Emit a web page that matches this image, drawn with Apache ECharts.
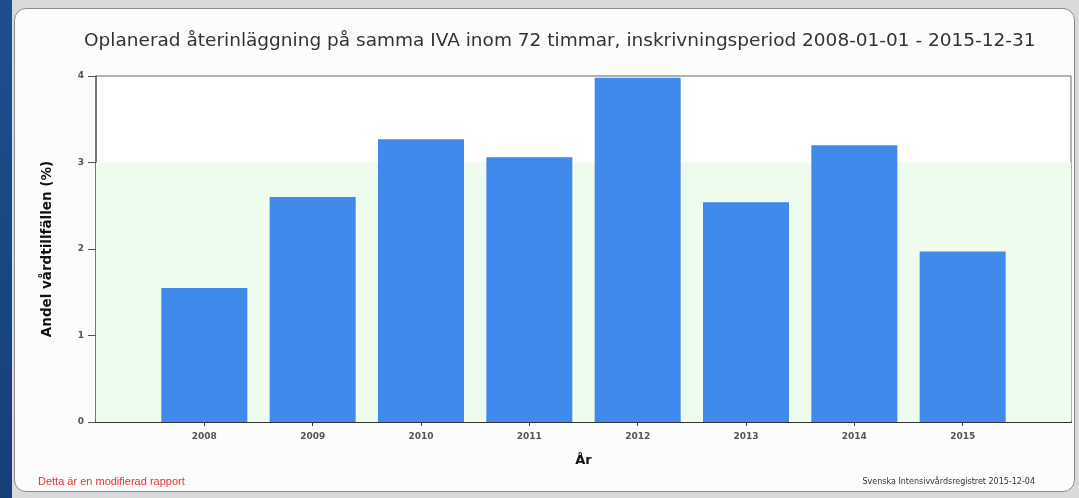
<!DOCTYPE html>
<html>
<head>
<meta charset="utf-8">
<script src="https://cdn.jsdelivr.net/npm/echarts@6/dist/echarts.min.js"></script>
<style>
    html, body { margin: 0; padding: 0; }
    body { width: 1079px; height: 498px; background: #d9dadc; position: relative; overflow: hidden; }
    .side { position: absolute; left: 0; top: 0; width: 12px; height: 498px; background: linear-gradient(#1d4f8f, #163f78); }
    .panel { position: absolute; left: 14px; top: 8px; width: 1059px; height: 482px; background: #fcfcfc;
             border: 1px solid #8a8a8a; border-radius: 12px; }
    #chart { position: absolute; left: 0; top: 0; width: 1079px; height: 498px; }
</style>
</head>
<body>
<div class="side"></div>
<div class="panel"></div>
<div id="chart"></div>
<script>
    // år och andel (%)
    const years = [2008, 2009, 2010, 2011, 2012, 2013, 2014, 2015]
    const values = [1.55, 2.60, 3.27, 3.06, 3.98, 2.54, 3.20, 1.97]
    const yTicks = [0, 1, 2, 3, 4]
    const targetLevel = 3 // grönt fält 0 - 3

    const chart = echarts.init(document.getElementById('chart'))
    const option = {
        animation: false,
        title: {
            text: 'Oplanerad återinläggning på samma IVA inom 72 timmar, inskrivningsperiod 2008-01-01 - 2015-12-31',
            left: 79,
            top: 27,
            textStyle: { fontFamily: 'DejaVu Sans', fontSize: 18.5, fontWeight: 'normal', color: '#333' }
        },
        graphic: [
            {
                type: 'text', left: 38, top: 476,
                style: { text: 'Detta är en modifierad rapport', fill: '#e8322e', font: '11px "Liberation Sans"' }
            },
            {
                type: 'text', right: 44, top: 478,
                style: { text: 'Svenska Intensivvårdsregistret 2015-12-04', fill: '#333', font: '8px "DejaVu Sans"' }
            }
        ],
        grid: {
            left: 96, right: 8, top: 76, bottom: 76,
            show: true, borderColor: '#666', borderWidth: 1, backgroundColor: '#fff'
        },
        xAxis: {
            type: 'value',
            min: 2007, max: 2016, interval: 1,
            name: 'År',
            nameLocation: 'middle',
            nameGap: 32,
            nameTextStyle: { fontFamily: 'DejaVu Sans', fontSize: 13, fontWeight: 'bold', color: '#111' },
            splitLine: { show: false },
            axisLine: { lineStyle: { color: '#333', width: 2 } },
            axisTick: { show: true, length: 4, customValues: years, lineStyle: { color: '#333' } },
            axisLabel: {
                customValues: years,
                formatter: v => String(v),
                margin: 10,
                fontFamily: 'DejaVu Sans', fontSize: 9, fontWeight: 'bold', color: '#555'
            }
        },
        yAxis: {
            type: 'value',
            min: 0, max: 4, interval: 1,
            name: 'Andel vårdtillfällen (%)',
            nameLocation: 'middle',
            nameGap: 42,
            nameTextStyle: { fontFamily: 'DejaVu Sans', fontSize: 13.5, fontWeight: 'bold', color: '#111' },
            splitLine: { show: false },
            axisLine: { show: true, lineStyle: { color: '#666', width: 1.5 } },
            axisTick: { show: true, length: 8, lineStyle: { color: '#555' } },
            axisLabel: {
                customValues: yTicks,
                margin: 12,
                fontFamily: 'DejaVu Sans', fontSize: 9, fontWeight: 'bold', color: '#555'
            }
        },
        series: [{
            type: 'bar',
            barWidth: 86,
            data: years.map((y, i) => [y, values[i]]),
            itemStyle: { color: '#3f8aea' },
            markArea: {
                silent: true,
                itemStyle: { color: '#edfcec' },
                data: [[{ yAxis: 0 }, { yAxis: targetLevel }]]
            },
            z: 3
        }]
    }
    chart.setOption(option)
</script>
</body>
</html>
